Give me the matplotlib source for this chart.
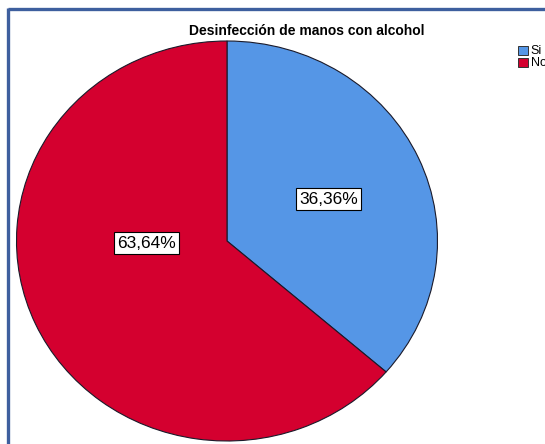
import matplotlib
matplotlib.use("Agg")
import matplotlib.pyplot as plt
from matplotlib.patches import Rectangle
from matplotlib.lines import Line2D

plt.rcParams['font.family'] = ['Liberation Sans', 'DejaVu Sans']

categorias = ['Si', 'No']
porcentajes = [36.36, 63.64]
colores = ['#5596E6', '#D4002F']

# posiciones de las etiquetas dentro del pastel (coordenadas del eje)
pos_etiquetas = [(0.482, 0.21), (-0.382, -0.01)]

fig = plt.figure(figsize=(5.45, 4.44), dpi=100)
W, H = 545, 444

# marco azul del visor
marco = '#3E5F9E'
fig.add_artist(Line2D([8 / W, 8 / W], [0, 1 - 8 / H], color=marco, lw=2.4,
                      transform=fig.transFigure, solid_capstyle='butt'))
fig.add_artist(Line2D([8 / W, 1], [1 - 9 / H, 1 - 9 / H], color=marco, lw=2.4,
                      transform=fig.transFigure, solid_capstyle='butt'))

ax = fig.add_axes([16.5 / W, 3 / H, 421 / W, 400 / H])
ax.pie(porcentajes, colors=colores, startangle=90, counterclock=False,
       wedgeprops=dict(edgecolor='#1a1a2a', linewidth=0.8))
ax.set_xlim(-1, 1)
ax.set_ylim(-1, 1)
ax.set_aspect('auto')
ax.axis('off')

for p, (x, y) in zip(porcentajes, pos_etiquetas):
    ax.text(x, y, f"{p:.2f}%".replace('.', ','), ha='center', va='center',
            fontsize=12.5,
            bbox=dict(boxstyle='square,pad=0.2', facecolor='white',
                      edgecolor='black', linewidth=0.8))

fig.text(307 / W, 1 - 31 / H, 'Desinfección de manos con alcohol',
         ha='center', va='center', fontsize=10, fontweight='bold')

# leyenda a la derecha (queda recortada por el borde)
for i, (cat, c) in enumerate(zip(categorias, colores)):
    top = 46 + i * 12
    fig.add_artist(Rectangle((517.5 / W, 1 - (top + 9) / H), 10.5 / W, 9 / H,
                             facecolor=c, edgecolor='#333333', linewidth=0.7,
                             transform=fig.transFigure))
    fig.text(530.5 / W, 1 - (top + 4.8) / H, cat, ha='left', va='center',
             fontsize=9)

fig.savefig('out.png', dpi=100)
